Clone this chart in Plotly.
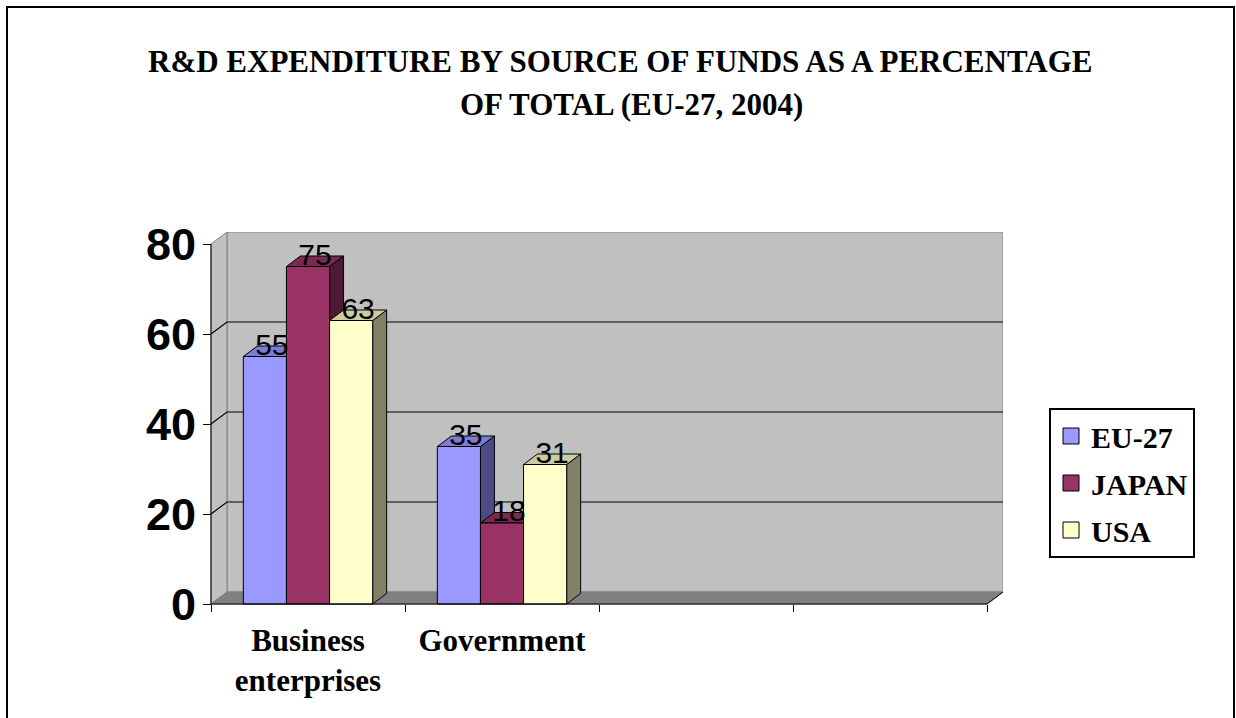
import plotly.graph_objects as go

# ---------------- data ----------------
categories = ["Business<br>enterprises", "Government", "", ""]
series = ["EU-27", "JAPAN", "USA"]
eu27 = [55, 35]
japan = [75, 18]
usa = [63, 31]
values = [eu27, japan, usa]
y_ticks = [0, 20, 40, 60, 80]
title_lines = ["R&D EXPENDITURE BY SOURCE OF FUNDS AS A PERCENTAGE",
               "OF TOTAL (EU-27, 2004)"]

# ---------------- style ----------------
front_colors = ["#9999FF", "#993366", "#FFFFCC"]
top_colors = ["#7C7CD6", "#7A2952", "#CCCCA3"]
side_colors = ["#4C4C85", "#4D1A33", "#808066"]
WALL = "#C0C0C0"
FLOOR = "#808080"
EDGE = "#808080"
SERIF = "Liberation Serif, Times New Roman, serif"
SANS = "Liberation Sans, Arial, sans-serif"

W, H = 1236, 718
L, R, T, B = 207, 233, 232, 110
PW = W - L - R
PH = H - T - B
CAT_PX = 194.0      # pixels per category
UNIT_PX = 4.5       # pixels per value unit
PAD = 4
x_range = [-PAD / CAT_PX, (PW - PAD) / CAT_PX]
y_range = [-PAD / UNIT_PX, (PH - PAD) / UNIT_PX]

n_cats = len(categories)
y_max = y_ticks[-1]
dxw, dyw = 16 / CAT_PX, 12 / UNIT_PX      # wall depth
dxb, dyb = 14 / CAT_PX, 10.5 / UNIT_PX    # bar depth
bw = 1 / 4.5                               # bar width (gap 150%)
gap = 0.75 * bw


def px_x(px):
    return (px - L) / PW


def px_y(py):
    return (H - B - py) / PH


fig = go.Figure()


def poly(xs, ys, fill, line_color="black", width=1):
    fig.add_trace(go.Scatter(
        x=list(xs) + [xs[0]], y=list(ys) + [ys[0]], mode="lines",
        fill="toself", fillcolor=fill,
        line=dict(color=line_color, width=width),
        hoverinfo="skip", showlegend=False))


def line(xs, ys, color="black", width=1):
    fig.add_trace(go.Scatter(
        x=xs, y=ys, mode="lines", line=dict(color=color, width=width),
        hoverinfo="skip", showlegend=False))


# back wall
poly([dxw, n_cats + dxw, n_cats + dxw, dxw],
     [dyw, dyw, y_max + dyw, y_max + dyw], WALL, EDGE)
# left wall
poly([0, dxw, dxw, 0], [0, dyw, y_max + dyw, y_max], WALL, EDGE)
# floor
poly([0, n_cats, n_cats + dxw, dxw], [0, 0, dyw, dyw], FLOOR, EDGE)

# gridlines
gx, gy = [], []
for v in y_ticks[1:-1]:
    gx += [0, dxw, n_cats + dxw, None]
    gy += [v, v + dyw, v + dyw, None]
line(gx, gy, "black", 1.2)

# bars (painter's order: left to right; side, top, front)
label_x, label_y, label_t = [], [], []
n_data = len(eu27)
for i in range(n_data):
    for j in range(len(series)):
        v = values[j][i]
        x0 = i + gap + j * bw
        x1 = x0 + bw
        # side
        poly([x1, x1 + dxb, x1 + dxb, x1], [0, dyb, v + dyb, v], side_colors[j])
        # top
        poly([x0, x1, x1 + dxb, x0 + dxb], [v, v, v + dyb, v + dyb], top_colors[j])
        # front
        poly([x0, x1, x1, x0], [0, 0, v, v], front_colors[j])
        label_x.append(x0 + bw / 2 + dxb / 2)
        label_y.append(v + dyb / 2 + 0.9)
        label_t.append(str(v))

# axis lines
line([0, 0], [0, y_max], "black", 1)
line([0, n_cats, n_cats + dxw], [0, 0, dyw], "black", 1)

# data labels
fig.add_trace(go.Scatter(
    x=label_x, y=label_y, text=label_t, mode="text",
    textposition="middle center",
    textfont=dict(family=SANS, size=30, color="black"),
    hoverinfo="skip", showlegend=False, cliponaxis=False))

# legend entries
for j, s in enumerate(series):
    fig.add_trace(go.Scatter(
        x=[None], y=[None], mode="markers", name=s, legendgroup=s,
        marker=dict(symbol="square", size=16, color=front_colors[j],
                    line=dict(color="black", width=1))))

# title
for k, (txt, py, px) in enumerate(zip(title_lines, [61, 105], [620, 631])):
    fig.add_annotation(
        text="<b>" + txt + "</b>", x=px_x(px), y=px_y(py),
        xref="paper", yref="paper", xanchor="center", yanchor="middle",
        showarrow=False, font=dict(family=SERIF, size=31, color="black"))

# outer border
fig.add_shape(type="rect", xref="paper", yref="paper",
              x0=px_x(7), x1=px_x(1234), y0=px_y(740), y1=px_y(7),
              line=dict(color="black", width=2), fillcolor="rgba(0,0,0,0)")

fig.update_layout(
    width=W, height=H,
    margin=dict(l=L, r=R, t=T, b=B, pad=0),
    paper_bgcolor="white", plot_bgcolor="rgba(0,0,0,0)",
    showlegend=True,
    legend=dict(x=px_x(1049), y=px_y(408), xanchor="left", yanchor="top",
                bgcolor="white", bordercolor="black", borderwidth=2,
                font=dict(family=SERIF, size=30, color="black", weight="bold"),
                tracegroupgap=5, itemsizing="trace"),
    xaxis=dict(range=x_range, anchor="free", position=PAD / PH,
               showgrid=False, zeroline=False, showline=False,
               tickmode="array", tickvals=[k + 0.5 for k in range(n_cats)],
               ticktext=["<b>" + c + "</b>" if c else "" for c in categories],
               ticks="", ticklabelstandoff=15,
               tickfont=dict(family=SERIF, size=31, color="black"),
               minor=dict(tickmode="array", tickvals=list(range(n_cats + 1)),
                          ticks="outside", ticklen=7, tickcolor="black",
                          tickwidth=1, showgrid=False)),
    yaxis=dict(range=y_range, anchor="free", position=PAD / PW,
               showgrid=False, zeroline=False, showline=False,
               tickmode="array", tickvals=y_ticks,
               ticks="outside", ticklen=8, tickcolor="black", tickwidth=1,
               ticklabelstandoff=-2,
               tickfont=dict(family=SANS, size=45, color="black", weight="bold")),
)

fig.write_html("out.html")
